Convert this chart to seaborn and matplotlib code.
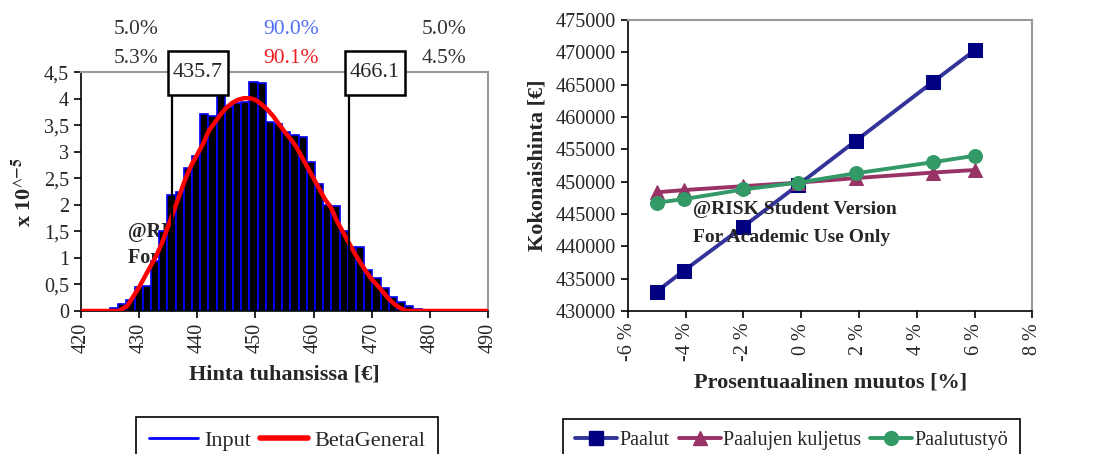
import numpy as np
import pandas as pd
import matplotlib
matplotlib.use("Agg")
import matplotlib.pyplot as plt
import seaborn as sns
from matplotlib.ticker import FuncFormatter, MultipleLocator
from matplotlib.lines import Line2D
from matplotlib.patches import Rectangle

# --- left panel: simulated price distribution (x 10^-5) ---
bin_start = 425.0
bin_width = 1.41
hist_heights = [0.05, 0.14, 0.20, 0.45, 0.47, 0.95, 1.50, 2.18, 2.24, 2.69,
                2.92, 3.72, 3.68, 4.22, 3.85, 3.91, 3.94, 4.32, 4.30, 3.56,
                3.53, 3.38, 3.31, 3.28, 2.81, 2.40, 2.00, 1.98, 1.50, 1.21,
                1.20, 0.77, 0.62, 0.43, 0.27, 0.17, 0.10, 0.04]

beta_x = [420, 426.5, 428, 430, 431, 432, 433, 434, 435, 436, 437, 438, 439,
          440, 441, 442, 443, 444, 445, 446, 447, 448, 449, 450, 451, 452,
          453, 454, 455, 456, 457, 458, 459, 460, 461, 462, 463, 464, 465,
          466, 467, 468, 469, 470, 471, 472, 473, 474, 475, 476, 490]
beta_y = [0, 0, 0.10, 0.45, 0.65, 0.85, 1.05, 1.30, 1.60, 1.90, 2.20, 2.50,
          2.75, 2.95, 3.15, 3.40, 3.55, 3.70, 3.83, 3.92, 3.98, 4.01, 4.01,
          3.98, 3.90, 3.80, 3.68, 3.53, 3.38, 3.25, 3.10, 2.90, 2.70, 2.50,
          2.30, 2.10, 1.95, 1.70, 1.50, 1.30, 1.10, 0.92, 0.75, 0.60, 0.48,
          0.35, 0.22, 0.12, 0.05, 0, 0]

lower_cut, upper_cut = 435.7, 466.1
input_pcts = ["5.0%", "90.0%", "5.0%"]
fit_pcts = ["5.3%", "90.1%", "4.5%"]

# --- right panel: sensitivity ---
change_pct = [-5.0, -4.05, -2.0, -0.1, 1.9, 4.55, 6.0]
paalut = [433000, 436250, 443050, 449500, 456350, 465400, 470300]
kuljetus = [448350, 448700, 449300, 449850, 450550, 451400, 451800]
tyo = [446750, 447300, 448800, 449850, 451300, 453000, 454000]

sns.set_theme(style="white")
plt.rcParams["font.family"] = ["Liberation Serif", "DejaVu Serif"]
plt.rcParams["mathtext.fontset"] = "stix"

fig = plt.figure(figsize=(11.09, 4.54), dpi=100)
ax1 = fig.add_axes([0.073, 0.315, 0.367, 0.526])
ax2 = fig.add_axes([0.566, 0.315, 0.365, 0.641])

FS = 14.5

def style_axes(ax):
    for side in ["top", "right"]:
        ax.spines[side].set_color("#999999")
        ax.spines[side].set_linewidth(1.5)
    for side in ["left", "bottom"]:
        ax.spines[side].set_color("black")
        ax.spines[side].set_linewidth(1.2)
    ax.tick_params(axis="both", direction="out", length=5, width=1.2,
                   color="black", labelsize=FS, left=True, bottom=True)

# left panel
n_bins = len(hist_heights)
hist_df = pd.DataFrame({"price": bin_start + bin_width * (np.arange(n_bins) + 0.5),
                        "density": hist_heights})
sns.histplot(data=hist_df, x="price", weights="density", binwidth=bin_width,
             binrange=(bin_start, bin_start + bin_width * n_bins), ax=ax1,
             facecolor="black", edgecolor="blue", linewidth=1.2, alpha=1,
             zorder=2)
ax1.text(428.1, 1.49, "@RISK Student Version", fontsize=FS, weight="bold",
         va="center", ha="left", zorder=1)
ax1.text(428.1, 1.0, "For Academic Use Only", fontsize=FS, weight="bold",
         va="center", ha="left", zorder=1)
sns.lineplot(x=beta_x, y=beta_y, ax=ax1, color="#ff0000", linewidth=3.2,
             zorder=4)
ax1.set_xlim(420, 490)
ax1.set_ylim(0, 4.5)
ax1.xaxis.set_major_locator(MultipleLocator(10))
ax1.yaxis.set_major_locator(MultipleLocator(0.5))
ax1.yaxis.set_major_formatter(FuncFormatter(lambda v, p: f"{v:g}".replace(".", ",")))
ax1.tick_params(axis="x", labelrotation=90)
style_axes(ax1)
ax1.set_xlabel("Hinta tuhansissa [€]", fontsize=16, weight="bold", labelpad=8)
ax1.set_ylabel(r"x 10$^{\wedge\mathbf{-5}}$", fontsize=16, weight="bold",
               labelpad=6)

for xv in [lower_cut, upper_cut]:
    ax1.plot([xv, xv], [0, 4.1], color="black", linewidth=1.6, zorder=5,
             clip_on=False)
    ax1.add_patch(Rectangle((xv - 0.7, 4.07), 10.3, 0.83, facecolor="white",
                            edgecolor="black", linewidth=1.8, zorder=6,
                            clip_on=False))
    ax1.text(xv + 4.45, 4.49, f"{xv:.1f}", fontsize=16, ha="center",
             va="center", zorder=7, clip_on=False)

pct_x = [433.3, 456.1, 482.4]
pct_ha = ["right", "center", "center"]
for xv, ha, a, b, col in zip(pct_x, pct_ha, input_pcts, fit_pcts,
                             ["#333333", "#4f6ff5", "#333333"]):
    ax1.text(xv, 5.31, a, fontsize=15.5, ha=ha, va="center", color=col,
             clip_on=False)
    ax1.text(xv, 4.76, b, fontsize=15.5, ha=ha, va="center",
             color="#ee1c1c" if col == "#4f6ff5" else "#333333", clip_on=False)

h1 = [Line2D([], [], color="blue", linewidth=2),
      Line2D([], [], color="#ff0000", linewidth=4)]
fig.legend(h1, ["Input", "BetaGeneral"], loc="upper left",
           bbox_to_anchor=(136 / 1109, 0.082), ncol=2, fontsize=16,
           frameon=True, fancybox=False, edgecolor="black", framealpha=1,
           handlelength=2.2, handletextpad=0.25, columnspacing=0.4,
           borderpad=0.6, borderaxespad=0).get_frame().set_linewidth(1.2)

# right panel
series = [("Paalut", paalut, "s", "#333399", "#000080"),
          ("Paalujen kuljetus", kuljetus, "^", "#993366", "#993366"),
          ("Paalutustyö", tyo, "o", "#339966", "#339966")]
handles = []
for name, vals, mk, lc, mc in series:
    sns.lineplot(x=change_pct, y=vals, ax=ax2, color=lc, linewidth=2.8,
                 marker=mk, markersize=10, markerfacecolor=mc,
                 markeredgecolor=mc, zorder=3)
    handles.append(Line2D([], [], color=lc, linewidth=2.8, marker=mk,
                          markersize=10, markerfacecolor=mc,
                          markeredgecolor=mc))
ax2.text(-3.75, 445620, "@RISK Student Version", fontsize=14, weight="bold",
         va="center", ha="left", zorder=5)
ax2.text(-3.75, 441290, "For Academic Use Only", fontsize=14, weight="bold",
         va="center", ha="left", zorder=5)
ax2.set_xlim(-6, 8)
ax2.set_ylim(430000, 475000)
ax2.xaxis.set_major_locator(MultipleLocator(2))
ax2.yaxis.set_major_locator(MultipleLocator(5000))
ax2.xaxis.set_major_formatter(FuncFormatter(lambda v, p: f"{v:g} %"))
ax2.yaxis.set_major_formatter(FuncFormatter(lambda v, p: f"{v:.0f}"))
ax2.tick_params(axis="x", labelrotation=90)
style_axes(ax2)
ax2.set_xlabel("Prosentuaalinen muutos [%]", fontsize=16, weight="bold",
               labelpad=8)
ax2.set_ylabel("Kokonaishinta [€]", fontsize=16, weight="bold", labelpad=6)

fig.legend(handles, [s[0] for s in series], loc="upper left",
           bbox_to_anchor=(563 / 1109, 0.078), ncol=3, fontsize=FS,
           frameon=True, fancybox=False, edgecolor="black", framealpha=1,
           handlelength=2.1, handletextpad=0.1, columnspacing=0.45,
           borderpad=0.6, borderaxespad=0).get_frame().set_linewidth(1.2)

fig.savefig("out.png", dpi=100)
